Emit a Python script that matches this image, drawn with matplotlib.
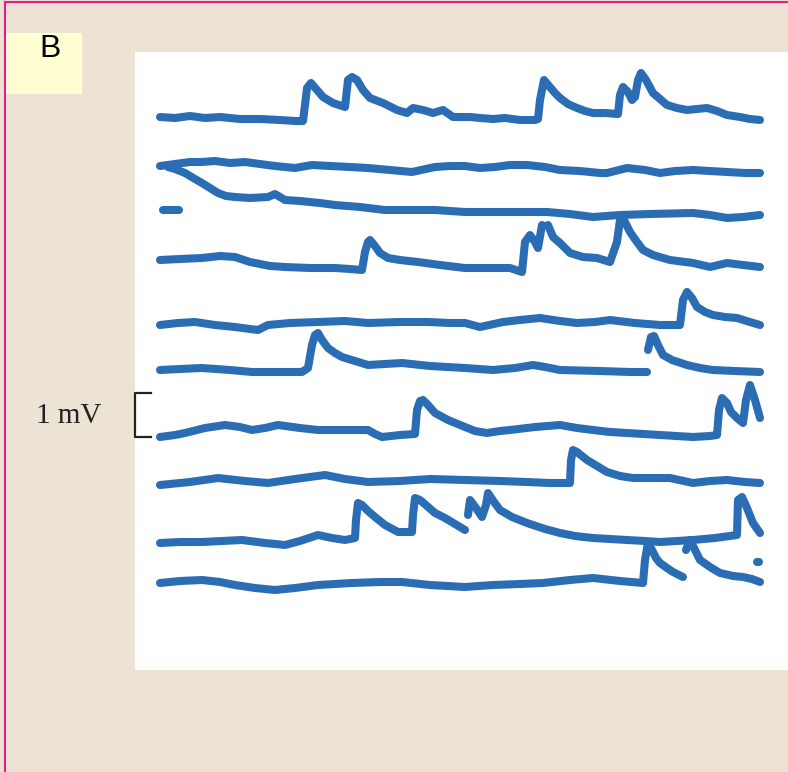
import numpy as np
import matplotlib
matplotlib.use("Agg")
import matplotlib.pyplot as plt
from matplotlib.patches import Rectangle

# traces, in picture pixels (x right, y down); nan = gap
tr1_x = [160, 175, 190, 205, 220, 240, 260, 280, 295, 303, 305, 307, 311, 317, 323, 333, 345,
         348, 352, 357, 363, 370, 383, 397, 407, 413, 423, 433, 443, 453, 470, 480, 493, 505, 520, 535, 538,
         540, 544, 549, 555, 560, 568, 577, 585, 593, 605, 618, 620, 623, 628, 632, 635,
         638, 641, 646, 653, 660, 667, 677, 687, 697, 707, 717, 727, 740, 750, 760]
tr1_y = [117, 118, 116, 118, 117, 119, 119, 120, 121, 121, 105, 88, 83, 90, 97, 103, 107,
         80, 77, 80, 90, 98, 103, 110, 113, 108, 110, 113, 110, 117, 117, 118, 119, 118, 120, 120, 119,
         100, 80, 86, 93, 98, 104, 108, 111, 113, 113, 114, 95, 87, 92, 100, 97,
         80, 73, 80, 93, 99, 105, 108, 110, 109, 108, 111, 115, 117, 119, 120]

tr2_x = [160, 175, 190, 202, 215, 230, 245, 260, 275, 295, 312, 330, 350, 368, 390, 412, 435, 450, 465,
         480, 495, 510, 527, 545, 560, 580, 600, 607, 627, 645, 660, 675, 693, 710, 727, 745, 760]
tr2_y = [166, 164, 162, 162, 161, 163, 162, 164, 166, 168, 165, 166, 167, 168, 170, 172, 167, 166, 166,
         168, 167, 165, 165, 167, 170, 171, 173, 173, 168, 170, 173, 171, 170, 171, 172, 173, 173]

tr3_x = [163, 179, np.nan, 168, 175, 185, 195, 202, 210, 218, 226, 235, 250, 268, 275, 285, 300, 320,
         335, 360, 385, 410, 435, 465, 500, 547, 570, 593, 620, 650, 693, 710, 727, 743, 760]
tr3_y = [210, 210, np.nan, 167, 169, 173, 179, 183, 188, 193, 196, 197, 198, 197, 194, 200, 201, 203,
         205, 207, 210, 210, 210, 212, 212, 212, 214, 217, 215, 214, 213, 215, 218, 217, 215]

tr4_x = [160, 180, 202, 220, 235, 250, 270, 285, 310, 335, 350, 362, 365, 368, 370, 375, 380, 388,
         400, 418, 440, 465, 493, 510, 522, 525, 530, 535, 538, 542, np.nan, 548, 553, 560, 570, 583,
         597, 610, 617, 620, 623, 630, 637, 643, 653, 670, 693, 710, 727, 743, 760]
tr4_y = [260, 259, 258, 256, 257, 262, 266, 267, 268, 268, 269, 270, 252, 242, 240, 246, 253, 258,
         260, 262, 265, 268, 268, 268, 272, 242, 235, 242, 248, 225, np.nan, 225, 237, 243, 253, 257,
         258, 262, 242, 220, 218, 232, 242, 250, 255, 260, 263, 267, 263, 265, 267]

tr5_x = [160, 178, 195, 215, 235, 250, 258, 268, 290, 318, 345, 368, 400, 428, 450, 465, 480, 503,
         520, 540, 560, 577, 595, 610, 635, 660, 680, 683, 687, 692, 697, 705, 713, 725, 737, 750, 760]
tr5_y = [325, 323, 322, 325, 327, 329, 330, 325, 323, 322, 321, 323, 322, 322, 323, 323, 327, 322,
         320, 318, 321, 323, 322, 320, 323, 325, 325, 300, 292, 298, 307, 312, 315, 317, 318, 322, 325]

tr6_x = [160, 180, 202, 230, 252, 280, 302, 308, 312, 315, 318, 322, 328, 335, 342, 355, 368, 385,
         402, 430, 465, 493, 515, 533, 545, 560, 600, 630, 647, np.nan, 648, 651, 654, 658, 663, 672,
         687, 700, 713, 735, 760]
tr6_y = [370, 369, 368, 370, 372, 372, 372, 368, 345, 335, 333, 340, 348, 353, 357, 361, 365, 364,
         363, 366, 368, 370, 368, 365, 367, 370, 371, 372, 372, np.nan, 350, 337, 336, 345, 355, 360,
         365, 368, 370, 371, 372]

tr7_x = [160, 175, 185, 205, 225, 240, 252, 265, 278, 300, 318, 345, 368, 375, 382, 400, 415,
         417, 420, 423, 428, 435, 448, 465, 475, 487, 500, 510, 535, 560, 577, 593, 610, 627, 660, 693,
         710, 717, 719, 722, 727, 731, 737, 743, 746, 750, 755, 760]
tr7_y = [437, 435, 433, 428, 425, 427, 430, 428, 425, 428, 430, 430, 430, 434, 437, 435, 434,
         410, 401, 400, 405, 413, 420, 427, 431, 433, 431, 430, 427, 425, 428, 430, 432, 433, 435, 437,
         436, 435, 410, 398, 403, 412, 418, 423, 400, 385, 400, 418]

tr8_x = [160, 190, 218, 245, 268, 295, 325, 345, 368, 400, 430, 465, 500, 527, 550, 570, 571, 573,
         577, 587, 597, 607, 620, 633, 650, 670, 693, 710, 727, 745, 760]
tr8_y = [485, 482, 478, 481, 483, 479, 475, 479, 482, 481, 479, 480, 481, 482, 483, 483, 460, 450,
         452, 460, 466, 472, 476, 478, 478, 478, 483, 481, 480, 482, 483]

tr9_x = [160, 180, 202, 222, 242, 265, 285, 300, 318, 332, 345, 355, 356, 358, 362, 368, 375, 385,
         398, 412, 413, 415, 420, 427, 435, 445, 455, 465, np.nan, 468, 470, 476, 482, 486, 488, 494,
         500, 512, 527, 545, 560, 575, 593, 610, 627, 645, 660, 677, 693, 715, 737, 738, 742, 747,
         753, 760, np.nan, 757, 759]
tr9_y = [543, 542, 542, 541, 540, 543, 545, 541, 535, 538, 540, 538, 520, 503, 505, 511, 517, 525,
         532, 532, 515, 498, 500, 506, 513, 518, 524, 530, np.nan, 515, 500, 508, 517, 505, 493, 502,
         510, 517, 523, 529, 533, 536, 538, 539, 540, 541, 542, 541, 540, 538, 535, 500, 497, 508,
         523, 533, np.nan, 562, 562]

tr10_x = [160, 180, 202, 220, 235, 255, 275, 295, 318, 335, 352, 380, 402, 430, 465, 493, 520, 543,
          570, 593, 620, 643, 645, 648, 652, 656, 660, 667, 673, 683, np.nan, 686, 690, 695, 700, 710,
          720, 733, 743, 752, 760]
tr10_y = [583, 581, 580, 582, 585, 588, 590, 588, 585, 584, 583, 582, 582, 585, 587, 585, 584, 583,
          580, 578, 581, 583, 560, 543, 550, 558, 563, 568, 572, 577, np.nan, 550, 540, 550, 560, 567,
          573, 576, 577, 579, 582]

traces = [(tr1_x, tr1_y), (tr2_x, tr2_y), (tr3_x, tr3_y), (tr4_x, tr4_y), (tr5_x, tr5_y),
          (tr6_x, tr6_y), (tr7_x, tr7_y), (tr8_x, tr8_y), (tr9_x, tr9_y), (tr10_x, tr10_y)]

scale_label = "1 mV"
panel_label = "B"

fig = plt.figure(figsize=(7.88, 7.72), dpi=100)
fig.patch.set_facecolor("#ece3d4")
ax = fig.add_axes([0, 0, 1, 1])
ax.set_xlim(0, 788)
ax.set_ylim(772, 0)
ax.axis("off")

# white panel and label box
ax.add_patch(Rectangle((135, 52), 660, 618, facecolor="white", edgecolor="none"))
ax.add_patch(Rectangle((5, 33), 77, 61, facecolor="#ffffd2", edgecolor="none"))
ax.plot([5, 5], [2, 772], color="#e8198b", lw=1.5)
ax.plot([5, 788], [2, 2], color="#e8198b", lw=1.5)

for xs, ys in traces:
    ax.plot(xs, ys, color="#2b6db4", lw=5.8, solid_capstyle="round", solid_joinstyle="round")

# scale bar
ax.plot([151, 135, 135, 151], [393, 393, 437, 437], color="#222222", lw=1.6)
ax.text(101, 416, scale_label, ha="right", va="center", fontsize=21,
        family="Liberation Serif", color="#222222")
ax.text(50, 49, panel_label, ha="center", va="center", fontsize=23,
        family="Liberation Sans", color="black")

plt.savefig("out.png", dpi=100, facecolor=fig.get_facecolor())
